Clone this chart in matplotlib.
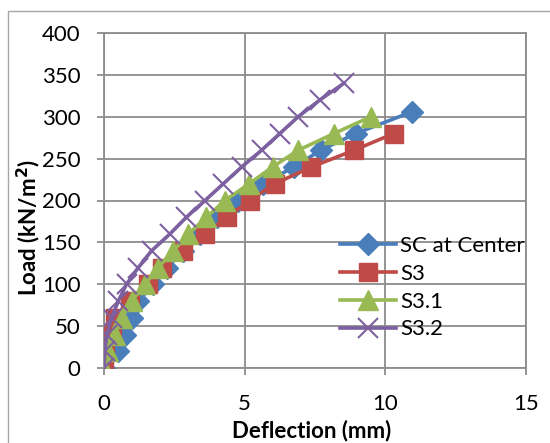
import matplotlib
matplotlib.use("Agg")
import matplotlib.pyplot as plt
from matplotlib.patches import Rectangle

# Data
sc_load = [0, 20, 40, 60, 80, 100, 120, 140, 160, 180, 200, 220, 240, 260, 280, 306]
sc_defl = [0, 0.5, 0.74, 0.98, 1.22, 1.75, 2.25, 2.8, 3.4, 4.0, 4.75, 5.65, 6.75, 7.7, 8.95, 10.95]

s3_load = [0, 20, 40, 60, 80, 100, 120, 140, 160, 180, 200, 220, 240, 260, 280]
s3_defl = [0, 0.04, 0.27, 0.39, 0.92, 1.55, 2.05, 2.82, 3.59, 4.38, 5.18, 6.07, 7.37, 8.89, 10.3]

s31_load = [0, 20, 40, 60, 80, 100, 120, 140, 160, 180, 200, 220, 240, 260, 280, 300]
s31_defl = [0, 0.15, 0.39, 0.63, 0.98, 1.46, 1.93, 2.46, 3.0, 3.64, 4.3, 5.16, 5.99, 6.9, 8.18, 9.48]

s32_load = [0, 20, 40, 60, 80, 100, 120, 140, 160, 180, 200, 220, 240, 260, 280, 300, 320, 340]
s32_defl = [0, 0.03, 0.1, 0.27, 0.51, 0.8, 1.22, 1.69, 2.34, 2.93, 3.59, 4.24, 4.89, 5.6, 6.25, 6.9, 7.67, 8.53]

labels = ["SC at Center", "S3", "S3.1", "S3.2"]
x_ticks = [0, 5, 10, 15]
y_ticks = [0, 50, 100, 150, 200, 250, 300, 350, 400]

plt.rcParams['font.family'] = ['Lato', 'DejaVu Sans']

W, H = 550, 443
fig = plt.figure(figsize=(W/100, H/100), dpi=100)
ax = fig.add_axes([104/W, 1-368/H, (526-104)/W, (368-33)/H])

# chart border
fig.patches.append(Rectangle((8/W, -0.1), 2, 1.1 - 11/H, transform=fig.transFigure,
                             fill=False, edgecolor='#a6a6a6', lw=1.0))

lw = 2.6
ax.plot(sc_defl, sc_load, color='#4A7EBB', lw=lw, marker='D', markersize=11.5, label=labels[0], zorder=3)
ax.plot(s3_defl, s3_load, color='#BE4B48', lw=lw, marker='s', markersize=13, label=labels[1], zorder=4)
ax.plot(s31_defl, s31_load, color='#98B954', lw=lw, marker='^', markersize=14, label=labels[2], zorder=5)
ax.plot(s32_defl, s32_load, color='#7D60A0', lw=lw, marker='x', markersize=14, markeredgewidth=1.5,
        label=labels[3], zorder=6)

ax.set_xlim(0, 15)
ax.set_ylim(0, 400)
ax.set_xticks(x_ticks)
ax.set_yticks(y_ticks)
ax.grid(True, color='#8c8c8c', lw=1.3)
ax.set_axisbelow(True)
for s in ax.spines.values():
    s.set_color('#8c8c8c')
    s.set_linewidth(1.3)
ax.tick_params(direction='out', length=5, color='#8c8c8c', width=1.3, labelsize=16, pad=14)
ax.tick_params(axis='y', pad=12)

ax.set_xlabel('Deflection (mm)', fontsize=16, fontweight='bold', va='center')
ax.xaxis.set_label_coords((312-104)/(526-104), 1 - (431-33)/(368-33))
ax.set_ylabel('Load (kN/m$^\\mathbf{2}$)', fontsize=16, fontweight='bold', va='center')
ax.yaxis.set_label_coords((29-104)/(526-104), 1 - (228-33)/(368-33))

leg = ax.legend(loc='upper left', bbox_to_anchor=(340/W, 1 - 236/H), bbox_transform=fig.transFigure,
                frameon=False, fontsize=16, handlelength=2.5, handletextpad=0.2,
                labelspacing=0.35, borderpad=0, borderaxespad=0)

fig.savefig('out.png', dpi=100)
